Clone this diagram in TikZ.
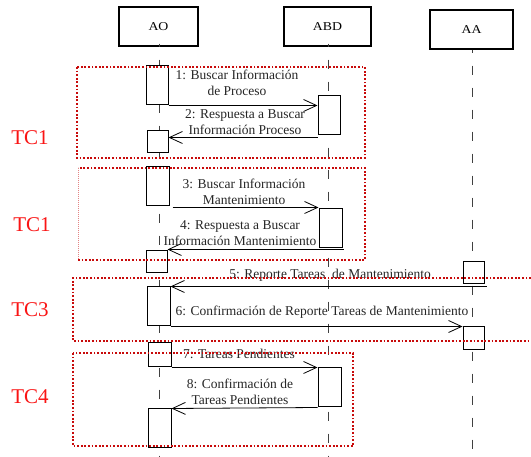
\documentclass[tikz,border=0pt]{standalone}
\usepackage{fontspec}
\setmainfont{Liberation Serif}
\newfontfamily\widefont[FakeStretch=1.15]{Liberation Serif}
\usetikzlibrary{arrows.meta,calc}
\definecolor{tcred}{RGB}{200,10,10}
\definecolor{tctext}{RGB}{250,20,20}
\begin{document}
\begin{tikzpicture}[x=1pt,y=-1pt,
  actor/.style={draw,line width=1.2pt,fill=white,inner sep=0pt,font=\widefont\fontsize{12}{14}\selectfont},
  act/.style={draw,line width=1pt,fill=white,inner sep=0pt},
  life/.style={line width=0.9pt,black!75,dash pattern=on 9pt off 13pt},
  msg/.style={line width=0.8pt,-{Straight Barb[length=13pt,width=12pt,line width=0.8pt]}},
  lbl/.style={align=center,inner sep=0pt,font=\fontsize{13.5}{16}\selectfont,text=black!85},
  tc/.style={text=tctext,inner sep=0pt,font=\fontsize{21}{24}\selectfont},
  tcbox/.style={tcred,line width=1.8pt,dash pattern=on 1.8pt off 1.8pt}]
\useasboundingbox (0,0) rectangle (531,457);
\fill[white] (0,0) rectangle (531,457);
% actors
\node[actor,minimum width=79pt,minimum height=39pt] (AO) at (158.5,26.5) {AO};
\node[actor,minimum width=87pt,minimum height=39pt] (ABD) at (327.5,26.5) {ABD};
\node[actor,minimum width=83pt,minimum height=39pt] (AA) at (471.5,29.5) {AA};
% lifelines
\coordinate (AOend) at (159,457);
\coordinate (ABDend) at (328,457);
\coordinate (AAend) at (472,457);
\draw[life,dash phase=6pt] (AO.south -| AOend) ++(0,-3) -- (AOend);
\draw[life,dash phase=6pt] (ABD.south -| ABDend) ++(0,-3) -- (ABDend);
\draw[life,dash phase=6pt] (AA.south -| AAend) ++(0,0) -- (AAend);
% activations AO
\node[act,minimum width=22pt,minimum height=39pt] (a1) at (157,85.5) {};
\node[act,minimum width=21pt,minimum height=22pt] (a2) at (157.5,142) {};
\node[act,minimum width=23pt,minimum height=39pt] (a3) at (157.5,186.5) {};
\node[act,minimum width=21pt,minimum height=22pt] (a4) at (156.5,262) {};
\node[act,minimum width=23pt,minimum height=39pt] (a5) at (158.5,306.5) {};
\node[act,minimum width=23pt,minimum height=24pt] (a6) at (159.5,355) {};
\node[act,minimum width=23pt,minimum height=39pt] (a7) at (159.5,428.5) {};
% activations ABD
\node[act,minimum width=22pt,minimum height=39pt] (b1) at (329,115.5) {};
\node[act,minimum width=23pt,minimum height=39pt] (b2) at (330.5,228.5) {};
\node[act,minimum width=23pt,minimum height=39pt] (b3) at (329.5,387.5) {};
% activations AA
\node[act,minimum width=21pt,minimum height=22pt] (c1) at (473.5,273) {};
\node[act,minimum width=21pt,minimum height=23pt] (c2) at (473.5,338.5) {};
% messages
\draw[msg] (a1.south east) -- (b1.west |- a1.south east);
\draw[msg] ($(b1.south west)+(0,2)$) -- ($(a2.east |- b1.south)+(0,2)$);
\draw[msg] ($(a3.east |- b2.north)+(3,-1)$) -- ($(b2.north west)+(0,-1)$);
\draw[msg] ($(b2.south east)+(1,1)$) -- ($(a4.east |- b2.south)+(0,1)$);
\draw[msg] ($(c1.south east)+(2,2)$) -- ($(a5.east |- c1.south)+(0,2)$);
\draw[msg] (a5.south east) -- (c2.north west);
\draw[msg] (a6.south east) -- (b3.north west);
\draw[msg] (b3.south west) -- (a7.north east);
% labels
\node[lbl] (l1) at (237,83) {1: Buscar Información\\de Proceso};
\node[lbl] (l2) at (245,122) {2: Respuesta a Buscar\\Información Proceso};
\node[lbl] (l3) at (244,191.5) {3: Buscar Información\\Mantenimiento};
\node[lbl] (l4) at (240,233.5) {4: Respuesta a Buscar\\Información Mantenimiento};
\node[lbl] (l5) at (330,275) {5: Reporte Tareas\ \ de Mantenimiento};
\node[lbl] (l6) at (322,312) {6: Confirmación de Reporte Tareas de Mantenimiento};
\node[lbl] (l7) at (239,354) {7: Tareas Pendientes};
\node[lbl] (l8) at (240,392) {8: Confirmación de\\Tareas Pendientes};
% TC labels
\node[tc] (tc1) at (30,138) {TC1};
\node[tc] (tc2) at (32,225) {TC1};
\node[tc] (tc3) at (30,310) {TC3};
\node[tc] (tc4) at (30,397) {TC4};
% red dotted boxes
\draw[tcbox] (77,67) rectangle (365,158);
\draw[tcbox] (78,260) -- (78+287,260) -- (365,168) -- (78,168);
\draw[tcred!50,line width=0.6pt,dash pattern=on 1pt off 1pt] (78,168) -- (78,260);
\draw[tcbox] (531,278) -- (73,278) -- (73,341) -- (531,341);
\draw[tcbox] (73,353) rectangle (353,446);
\end{tikzpicture}
\end{document}
